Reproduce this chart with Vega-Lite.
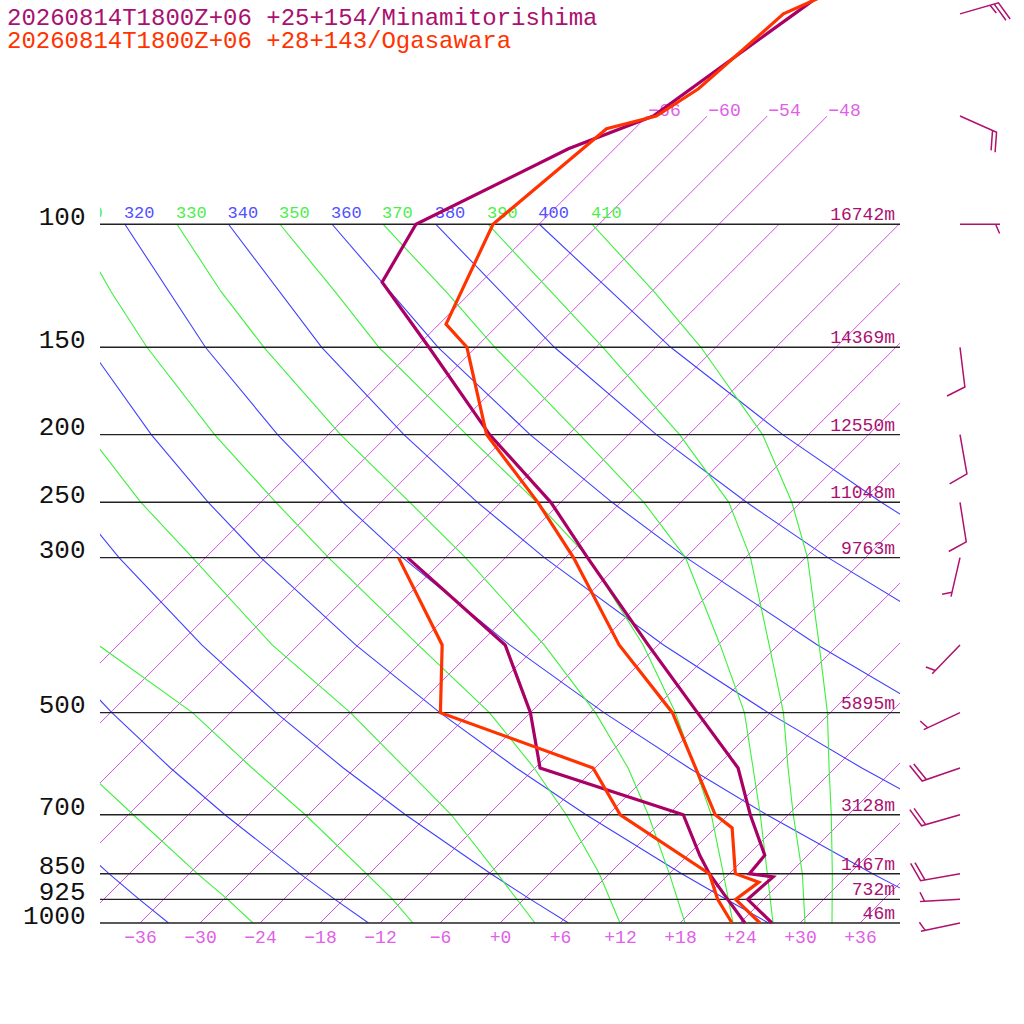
{
  "$schema": "https://vega.github.io/schema/vega-lite/v6.json",
  "width": 800,
  "height": 807,
  "autosize": {"type": "none"},
  "padding": {"left": 100, "top": 116, "right": 124, "bottom": 101},
  "background": "white",
  "config": {"view": {"stroke": null}, "font": "Liberation Mono"},
  "resolve": {"scale": {"color": "independent"}, "axis": {"x": "independent", "y": "independent"}},
  "datasets": {
    "levels": [
      {"p": 100, "h": "16742m"}, {"p": 150, "h": "14369m"}, {"p": 200, "h": "12550m"},
      {"p": 250, "h": "11048m"}, {"p": 300, "h": "9763m"}, {"p": 500, "h": "5895m"},
      {"p": 700, "h": "3128m"}, {"p": 850, "h": "1467m"}, {"p": 925, "h": "732m"},
      {"p": 1000, "h": "46m"}
    ],
    "iso": [
      {"t": -66, "p": 1000}, {"t": -66, "p": 70}, {"t": -60, "p": 1000}, {"t": -60, "p": 70},
      {"t": -54, "p": 1000}, {"t": -54, "p": 70}, {"t": -48, "p": 1000}, {"t": -48, "p": 70},
      {"t": -42, "p": 1000}, {"t": -42, "p": 100}, {"t": -36, "p": 1000}, {"t": -36, "p": 100},
      {"t": -30, "p": 1000}, {"t": -30, "p": 100}, {"t": -24, "p": 1000}, {"t": -24, "p": 100},
      {"t": -18, "p": 1000}, {"t": -18, "p": 100}, {"t": -12, "p": 1000}, {"t": -12, "p": 100},
      {"t": -6, "p": 1000}, {"t": -6, "p": 100}, {"t": 0, "p": 1000}, {"t": 0, "p": 100},
      {"t": 6, "p": 1000}, {"t": 6, "p": 100}, {"t": 12, "p": 1000}, {"t": 12, "p": 100},
      {"t": 18, "p": 1000}, {"t": 18, "p": 100}, {"t": 24, "p": 1000}, {"t": 24, "p": 100},
      {"t": 30, "p": 1000}, {"t": 30, "p": 100}, {"t": 36, "p": 1000}, {"t": 36, "p": 100}
    ],
    "adiabats": [
      {"k": "dry", "th": 240, "p": 1000, "t": -33.15}, {"k": "dry", "th": 240, "p": 925, "t": -38.44},
      {"k": "dry", "th": 240, "p": 850, "t": -44.04}, {"k": "dry", "th": 240, "p": 700, "t": -56.4},
      {"k": "dry", "th": 260, "p": 1000, "t": -13.15}, {"k": "dry", "th": 260, "p": 925, "t": -18.88},
      {"k": "dry", "th": 260, "p": 850, "t": -24.95}, {"k": "dry", "th": 260, "p": 700, "t": -38.34},
      {"k": "dry", "th": 260, "p": 600, "t": -48.46}, {"k": "dry", "th": 260, "p": 500, "t": -59.86},
      {"k": "dry", "th": 260, "p": 400, "t": -73.03},
      {"k": "dry", "th": 280, "p": 1000, "t": 6.85}, {"k": "dry", "th": 280, "p": 925, "t": 0.68},
      {"k": "dry", "th": 280, "p": 850, "t": -5.85}, {"k": "dry", "th": 280, "p": 700, "t": -20.28},
      {"k": "dry", "th": 280, "p": 600, "t": -31.17}, {"k": "dry", "th": 280, "p": 500, "t": -43.45},
      {"k": "dry", "th": 280, "p": 400, "t": -57.64}, {"k": "dry", "th": 280, "p": 300, "t": -74.65},
      {"k": "dry", "th": 280, "p": 250, "t": -84.72},
      {"k": "dry", "th": 300, "p": 1000, "t": 26.85}, {"k": "dry", "th": 300, "p": 925, "t": 20.24},
      {"k": "dry", "th": 300, "p": 850, "t": 13.24}, {"k": "dry", "th": 300, "p": 700, "t": -2.22},
      {"k": "dry", "th": 300, "p": 600, "t": -13.89}, {"k": "dry", "th": 300, "p": 500, "t": -27.05},
      {"k": "dry", "th": 300, "p": 400, "t": -42.25}, {"k": "dry", "th": 300, "p": 300, "t": -60.47},
      {"k": "dry", "th": 300, "p": 250, "t": -71.26}, {"k": "dry", "th": 300, "p": 200, "t": -83.73},
      {"k": "dry", "th": 300, "p": 150, "t": -98.68},
      {"k": "dry", "th": 320, "p": 1000, "t": 46.85}, {"k": "dry", "th": 320, "p": 925, "t": 39.8},
      {"k": "dry", "th": 320, "p": 850, "t": 32.33}, {"k": "dry", "th": 320, "p": 700, "t": 15.85},
      {"k": "dry", "th": 320, "p": 600, "t": 3.4}, {"k": "dry", "th": 320, "p": 500, "t": -10.64},
      {"k": "dry", "th": 320, "p": 400, "t": -26.85}, {"k": "dry", "th": 320, "p": 300, "t": -46.29},
      {"k": "dry", "th": 320, "p": 250, "t": -57.8}, {"k": "dry", "th": 320, "p": 200, "t": -71.1},
      {"k": "dry", "th": 320, "p": 150, "t": -87.05}, {"k": "dry", "th": 320, "p": 100, "t": -107.41},
      {"k": "dry", "th": 340, "p": 700, "t": 33.91}, {"k": "dry", "th": 340, "p": 600, "t": 20.68},
      {"k": "dry", "th": 340, "p": 500, "t": 5.77}, {"k": "dry", "th": 340, "p": 400, "t": -11.46},
      {"k": "dry", "th": 340, "p": 300, "t": -32.11}, {"k": "dry", "th": 340, "p": 250, "t": -44.34},
      {"k": "dry", "th": 340, "p": 200, "t": -58.47}, {"k": "dry", "th": 340, "p": 150, "t": -75.42},
      {"k": "dry", "th": 340, "p": 100, "t": -97.05},
      {"k": "dry", "th": 360, "p": 500, "t": 22.17}, {"k": "dry", "th": 360, "p": 400, "t": 3.93},
      {"k": "dry", "th": 360, "p": 300, "t": -17.93}, {"k": "dry", "th": 360, "p": 250, "t": -30.88},
      {"k": "dry", "th": 360, "p": 200, "t": -45.85}, {"k": "dry", "th": 360, "p": 150, "t": -63.78},
      {"k": "dry", "th": 360, "p": 100, "t": -86.69},
      {"k": "dry", "th": 380, "p": 400, "t": 19.33}, {"k": "dry", "th": 380, "p": 300, "t": -3.75},
      {"k": "dry", "th": 380, "p": 250, "t": -17.43}, {"k": "dry", "th": 380, "p": 200, "t": -33.22},
      {"k": "dry", "th": 380, "p": 150, "t": -52.15}, {"k": "dry", "th": 380, "p": 100, "t": -76.33},
      {"k": "dry", "th": 400, "p": 300, "t": 10.43}, {"k": "dry", "th": 400, "p": 250, "t": -3.97},
      {"k": "dry", "th": 400, "p": 200, "t": -20.59}, {"k": "dry", "th": 400, "p": 150, "t": -40.52},
      {"k": "dry", "th": 400, "p": 100, "t": -65.97},
      {"k": "moist", "th": 250, "p": 1000, "t": -24.7}, {"k": "moist", "th": 250, "p": 925, "t": -29.6},
      {"k": "moist", "th": 250, "p": 850, "t": -35.2}, {"k": "moist", "th": 250, "p": 700, "t": -47.5},
      {"k": "moist", "th": 250, "p": 600, "t": -57.2},
      {"k": "moist", "th": 270, "p": 1000, "t": -8.7}, {"k": "moist", "th": 270, "p": 925, "t": -13.1},
      {"k": "moist", "th": 270, "p": 850, "t": -18.3}, {"k": "moist", "th": 270, "p": 700, "t": -30.3},
      {"k": "moist", "th": 270, "p": 600, "t": -40.3}, {"k": "moist", "th": 270, "p": 500, "t": -51.8},
      {"k": "moist", "th": 270, "p": 400, "t": -68.0},
      {"k": "moist", "th": 290, "p": 1000, "t": 3.5}, {"k": "moist", "th": 290, "p": 850, "t": -5.2},
      {"k": "moist", "th": 290, "p": 700, "t": -15.7}, {"k": "moist", "th": 290, "p": 600, "t": -25.0},
      {"k": "moist", "th": 290, "p": 500, "t": -36.0}, {"k": "moist", "th": 290, "p": 400, "t": -50.6},
      {"k": "moist", "th": 290, "p": 300, "t": -67.3}, {"k": "moist", "th": 290, "p": 250, "t": -78.0},
      {"k": "moist", "th": 290, "p": 200, "t": -90.0},
      {"k": "moist", "th": 310, "p": 1000, "t": 12.0}, {"k": "moist", "th": 310, "p": 850, "t": 5.0},
      {"k": "moist", "th": 310, "p": 700, "t": -4.2}, {"k": "moist", "th": 310, "p": 600, "t": -12.1},
      {"k": "moist", "th": 310, "p": 500, "t": -22.1}, {"k": "moist", "th": 310, "p": 400, "t": -36.0},
      {"k": "moist", "th": 310, "p": 300, "t": -53.7}, {"k": "moist", "th": 310, "p": 250, "t": -64.5},
      {"k": "moist", "th": 310, "p": 200, "t": -77.4}, {"k": "moist", "th": 310, "p": 150, "t": -92.9},
      {"k": "moist", "th": 310, "p": 125, "t": -102.0}, {"k": "moist", "th": 310, "p": 100, "t": -112.6},
      {"k": "moist", "th": 330, "p": 1000, "t": 18.5}, {"k": "moist", "th": 330, "p": 850, "t": 12.0},
      {"k": "moist", "th": 330, "p": 700, "t": 4.0}, {"k": "moist", "th": 330, "p": 600, "t": -2.7},
      {"k": "moist", "th": 330, "p": 500, "t": -11.5}, {"k": "moist", "th": 330, "p": 400, "t": -23.4},
      {"k": "moist", "th": 330, "p": 300, "t": -40.0}, {"k": "moist", "th": 330, "p": 250, "t": -51.1},
      {"k": "moist", "th": 330, "p": 200, "t": -64.8}, {"k": "moist", "th": 330, "p": 150, "t": -81.2},
      {"k": "moist", "th": 330, "p": 125, "t": -91.0}, {"k": "moist", "th": 330, "p": 100, "t": -102.2},
      {"k": "moist", "th": 350, "p": 1000, "t": 23.3}, {"k": "moist", "th": 350, "p": 850, "t": 17.4},
      {"k": "moist", "th": 350, "p": 700, "t": 10.3}, {"k": "moist", "th": 350, "p": 600, "t": 4.0},
      {"k": "moist", "th": 350, "p": 500, "t": -3.5}, {"k": "moist", "th": 350, "p": 400, "t": -13.5},
      {"k": "moist", "th": 350, "p": 300, "t": -27.7}, {"k": "moist", "th": 350, "p": 250, "t": -38.4},
      {"k": "moist", "th": 350, "p": 200, "t": -52.2}, {"k": "moist", "th": 350, "p": 150, "t": -69.7},
      {"k": "moist", "th": 350, "p": 125, "t": -79.6}, {"k": "moist", "th": 350, "p": 100, "t": -91.9},
      {"k": "moist", "th": 370, "p": 1000, "t": 27.3}, {"k": "moist", "th": 370, "p": 850, "t": 21.8},
      {"k": "moist", "th": 370, "p": 700, "t": 15.2}, {"k": "moist", "th": 370, "p": 600, "t": 9.8},
      {"k": "moist", "th": 370, "p": 500, "t": 3.4}, {"k": "moist", "th": 370, "p": 400, "t": -5.8},
      {"k": "moist", "th": 370, "p": 300, "t": -18.0}, {"k": "moist", "th": 370, "p": 250, "t": -27.7},
      {"k": "moist", "th": 370, "p": 200, "t": -40.9}, {"k": "moist", "th": 370, "p": 150, "t": -58.1},
      {"k": "moist", "th": 370, "p": 125, "t": -68.5}, {"k": "moist", "th": 370, "p": 100, "t": -81.6},
      {"k": "moist", "th": 390, "p": 1000, "t": 30.5}, {"k": "moist", "th": 390, "p": 850, "t": 25.3},
      {"k": "moist", "th": 390, "p": 700, "t": 18.5}, {"k": "moist", "th": 390, "p": 600, "t": 13.3},
      {"k": "moist", "th": 390, "p": 500, "t": 7.3}, {"k": "moist", "th": 390, "p": 400, "t": -0.9},
      {"k": "moist", "th": 390, "p": 300, "t": -11.5}, {"k": "moist", "th": 390, "p": 250, "t": -19.2},
      {"k": "moist", "th": 390, "p": 200, "t": -30.9}, {"k": "moist", "th": 390, "p": 150, "t": -47.3},
      {"k": "moist", "th": 390, "p": 125, "t": -58.0}, {"k": "moist", "th": 390, "p": 100, "t": -71.1},
      {"k": "moist", "th": 410, "p": 1000, "t": 33.2}, {"k": "moist", "th": 410, "p": 850, "t": 28.3},
      {"k": "moist", "th": 410, "p": 700, "t": 22.3}, {"k": "moist", "th": 410, "p": 600, "t": 17.4},
      {"k": "moist", "th": 410, "p": 500, "t": 11.7}, {"k": "moist", "th": 410, "p": 400, "t": 4.1},
      {"k": "moist", "th": 410, "p": 300, "t": -5.8}, {"k": "moist", "th": 410, "p": 250, "t": -12.9},
      {"k": "moist", "th": 410, "p": 200, "t": -22.6}, {"k": "moist", "th": 410, "p": 150, "t": -37.5},
      {"k": "moist", "th": 410, "p": 125, "t": -47.7}, {"k": "moist", "th": 410, "p": 100, "t": -60.7}
    ],
    "snd": [
      {"stn": "M", "kind": "T", "p": 1000, "t": 27.2}, {"stn": "M", "kind": "T", "p": 925, "t": 22.4},
      {"stn": "M", "kind": "T", "p": 859, "t": 22.7}, {"stn": "M", "kind": "T", "p": 850, "t": 20.0},
      {"stn": "M", "kind": "T", "p": 800, "t": 19.7}, {"stn": "M", "kind": "T", "p": 700, "t": 14.2},
      {"stn": "M", "kind": "T", "p": 600, "t": 8.3}, {"stn": "M", "kind": "T", "p": 500, "t": -1.3},
      {"stn": "M", "kind": "T", "p": 400, "t": -13.0}, {"stn": "M", "kind": "T", "p": 300, "t": -27.8},
      {"stn": "M", "kind": "T", "p": 250, "t": -37.0}, {"stn": "M", "kind": "T", "p": 200, "t": -49.9},
      {"stn": "M", "kind": "T", "p": 150, "t": -64.7}, {"stn": "M", "kind": "T", "p": 121, "t": -75.9},
      {"stn": "M", "kind": "T", "p": 100, "t": -78.3}, {"stn": "M", "kind": "T", "p": 78, "t": -70.6},
      {"stn": "M", "kind": "T", "p": 70, "t": -65.4}, {"stn": "M", "kind": "T", "p": 50, "t": -61.5},
      {"stn": "M", "kind": "T", "p": 30, "t": -55.6},
      {"stn": "M", "kind": "D", "p": 1000, "t": 24.5}, {"stn": "M", "kind": "D", "p": 925, "t": 20.4},
      {"stn": "M", "kind": "D", "p": 850, "t": 16.0}, {"stn": "M", "kind": "D", "p": 800, "t": 13.2},
      {"stn": "M", "kind": "D", "p": 700, "t": 7.5}, {"stn": "M", "kind": "D", "p": 600, "t": -11.5},
      {"stn": "M", "kind": "D", "p": 500, "t": -18.0}, {"stn": "M", "kind": "D", "p": 400, "t": -27.3},
      {"stn": "M", "kind": "D", "p": 300, "t": -45.8},
      {"stn": "O", "kind": "T", "p": 1000, "t": 26.0}, {"stn": "O", "kind": "T", "p": 925, "t": 21.2},
      {"stn": "O", "kind": "T", "p": 874, "t": 21.8}, {"stn": "O", "kind": "T", "p": 850, "t": 18.6},
      {"stn": "O", "kind": "T", "p": 731, "t": 13.7}, {"stn": "O", "kind": "T", "p": 700, "t": 10.7},
      {"stn": "O", "kind": "T", "p": 500, "t": -3.8}, {"stn": "O", "kind": "T", "p": 400, "t": -15.9},
      {"stn": "O", "kind": "T", "p": 300, "t": -29.2}, {"stn": "O", "kind": "T", "p": 250, "t": -38.3},
      {"stn": "O", "kind": "T", "p": 200, "t": -50.2}, {"stn": "O", "kind": "T", "p": 150, "t": -60.9},
      {"stn": "O", "kind": "T", "p": 139, "t": -65.3}, {"stn": "O", "kind": "T", "p": 100, "t": -70.6},
      {"stn": "O", "kind": "T", "p": 73, "t": -68.8}, {"stn": "O", "kind": "T", "p": 70, "t": -65.1},
      {"stn": "O", "kind": "T", "p": 64, "t": -63.6}, {"stn": "O", "kind": "T", "p": 50, "t": -62.6},
      {"stn": "O", "kind": "T", "p": 30, "t": -43.4},
      {"stn": "O", "kind": "D", "p": 1000, "t": 23.2}, {"stn": "O", "kind": "D", "p": 925, "t": 19.4},
      {"stn": "O", "kind": "D", "p": 850, "t": 16.0}, {"stn": "O", "kind": "D", "p": 700, "t": 1.2},
      {"stn": "O", "kind": "D", "p": 600, "t": -6.2}, {"stn": "O", "kind": "D", "p": 500, "t": -27.0},
      {"stn": "O", "kind": "D", "p": 400, "t": -33.6}, {"stn": "O", "kind": "D", "p": 300, "t": -46.7}
    ],
    "barbs": [
      {"p": 50, "dir": 74, "barb": "f2h"}, {"p": 70, "dir": 114, "barb": "f2"},
      {"p": 100, "dir": 90, "barb": "h"}, {"p": 150, "dir": 173, "barb": "f1"},
      {"p": 200, "dir": 170, "barb": "f1"}, {"p": 250, "dir": 171, "barb": "f1"},
      {"p": 300, "dir": 193, "barb": "h"}, {"p": 400, "dir": 224, "barb": "h"},
      {"p": 500, "dir": 245, "barb": "h"}, {"p": 600, "dir": 251, "barb": "f2"},
      {"p": 700, "dir": 254, "barb": "f2"}, {"p": 850, "dir": 260, "barb": "f2"},
      {"p": 925, "dir": 267, "barb": "h"}, {"p": 1000, "dir": 258, "barb": "h"}
    ]
  },
  "layer": [
    {
      "encoding": {
        "x": {
          "field": "xs",
          "type": "quantitative",
          "scale": {"domain": [-40, 40], "nice": false, "zero": false},
          "axis": {
            "values": [-36, -30, -24, -18, -12, -6, 0, 6, 12, 18, 24, 30, 36],
            "title": null,
            "domain": false,
            "ticks": false,
            "tickSize": 0,
            "grid": false,
            "labelFont": "Liberation Mono",
            "labelFontSize": 18,
            "labelColor": "#e060e8",
            "labelBaseline": "alphabetic",
            "labelPadding": 19,
            "labelFlush": false,
            "labelOverlap": false,
            "labelExpr": "(datum.value >= 0 ? '+' : '\u2212') + abs(datum.value)"
          }
        },
        "y": {
          "field": "p",
          "type": "quantitative",
          "scale": {"type": "log", "domain": [70, 1000], "nice": false, "reverse": true},
          "axis": {
            "values": [100, 150, 200, 250, 300, 500, 700, 850, 925, 1000],
            "title": null,
            "domain": false,
            "ticks": false,
            "tickSize": 0,
            "grid": false,
            "labelFont": "Liberation Mono",
            "labelFontSize": 26,
            "labelColor": "#111111",
            "labelBaseline": "alphabetic",
            "labelPadding": 15,
            "labelFlush": false,
            "labelOverlap": false,
            "labelExpr": "'' + datum.value"
          }
        }
      },
      "layer": [
        {
          "data": {"name": "iso"},
          "transform": [{"calculate": "datum.t + 69.9 * log(1000 / datum.p) / LN10", "as": "xs"}],
          "mark": {"type": "line", "clip": true, "color": "#d455e6", "strokeWidth": 1},
          "encoding": {"detail": {"field": "t"}, "order": {"field": "p", "type": "quantitative"}}
        },
        {
          "data": {"name": "adiabats"},
          "transform": [{"calculate": "datum.t + 69.9 * log(1000 / datum.p) / LN10", "as": "xs"}],
          "mark": {"type": "line", "clip": true, "strokeWidth": 1.1},
          "encoding": {
            "detail": [{"field": "k"}, {"field": "th"}],
            "color": {"field": "k", "type": "nominal", "scale": {"domain": ["dry", "moist"], "range": ["#4040ff", "#3cf03c"]}, "legend": null},
            "order": {"field": "p", "type": "quantitative"}
          }
        }
      ]
    },
    {
      "data": {"name": "levels"},
      "mark": {"type": "rule", "color": "#222222", "strokeWidth": 1.4},
      "encoding": {
        "y": {"field": "p", "type": "quantitative", "scale": {"type": "log", "domain": [70, 1000], "nice": false, "reverse": true}, "axis": null}
      }
    },
    {
      "resolve": {"scale": {"color": "independent"}},
      "encoding": {
        "x": {"field": "xs", "type": "quantitative", "scale": {"domain": [-40, 40], "nice": false, "zero": false}, "axis": null},
        "y": {"field": "p", "type": "quantitative", "scale": {"type": "log", "domain": [70, 1000], "nice": false, "reverse": true}, "axis": null}
      },
      "layer": [
        {
          "data": {"name": "iso"},
          "transform": [
            {"filter": "datum.p == 70"},
            {"calculate": "datum.t + 69.9 * log(1000 / datum.p) / LN10", "as": "xs"},
            {"calculate": "(datum.t >= 0 ? '+' : '\u2212') + abs(datum.t)", "as": "lab"}
          ],
          "mark": {"type": "text", "align": "left", "baseline": "alphabetic", "dx": 1, "fontSize": 18, "color": "#e060e8"},
          "encoding": {"text": {"field": "lab"}}
        },
        {
          "data": {"name": "adiabats"},
          "transform": [
            {"filter": "datum.p == 100"},
            {"calculate": "datum.t + 69.9 * log(1000 / datum.p) / LN10", "as": "xs"}
          ],
          "mark": {"type": "text", "align": "left", "baseline": "alphabetic", "dx": -1, "dy": -6, "fontSize": 17, "clip": true},
          "encoding": {
            "text": {"field": "th"},
            "color": {"field": "k", "type": "nominal", "scale": {"domain": ["dry", "moist"], "range": ["#5050ff", "#4cee4c"]}, "legend": null}
          }
        },
        {
          "data": {"name": "snd"},
          "transform": [{"calculate": "datum.t + 69.9 * log(1000 / datum.p) / LN10", "as": "xs"}],
          "mark": {"type": "line", "strokeWidth": 3.2},
          "encoding": {
            "color": {"field": "stn", "type": "nominal", "scale": {"domain": ["M", "O"], "range": ["#aa0066", "#ff3300"]}, "legend": null},
            "detail": {"field": "kind"},
            "order": {"field": "p", "type": "quantitative"}
          }
        }
      ]
    },
    {
      "data": {"name": "levels"},
      "mark": {"type": "text", "align": "right", "baseline": "alphabetic", "dy": -4, "fontSize": 18, "color": "#aa1070"},
      "encoding": {
        "x": {"datum": 39.5, "type": "quantitative", "scale": {"domain": [-40, 40], "nice": false, "zero": false}, "axis": null},
        "y": {"field": "p", "type": "quantitative", "scale": {"type": "log", "domain": [70, 1000], "nice": false, "reverse": true}, "axis": null},
        "text": {"field": "h"}
      }
    },
    {
      "data": {"name": "barbs"},
      "mark": {"type": "point", "filled": false, "size": 6400, "strokeWidth": 1.5, "color": "#b0106e", "opacity": 1},
      "encoding": {
        "x": {"datum": 46, "type": "quantitative", "scale": {"domain": [-40, 40], "nice": false, "zero": false}, "axis": null},
        "y": {"field": "p", "type": "quantitative", "scale": {"type": "log", "domain": [70, 1000], "nice": false, "reverse": true}, "axis": null},
        "shape": {
          "field": "barb",
          "type": "nominal",
          "scale": {
            "domain": ["h", "f1", "f2", "f2h"],
            "range": [
              "M0,0L0,-1M0,-0.89L0.23,-0.99",
              "M0,0L0,-1L0.47,-1.17",
              "M0,0L0,-1L0.47,-1.17M0,-0.89L0.47,-1.06",
              "M0,0L0,-1L0.47,-1.17M0,-0.89L0.47,-1.06M0,-0.78L0.23,-0.88"
            ]
          },
          "legend": null
        },
        "angle": {"field": "dir", "type": "quantitative", "scale": {"domain": [0, 360], "range": [0, 360]}}
      }
    },
    {
      "data": {"values": [{}]},
      "mark": {"type": "text", "align": "left", "baseline": "alphabetic", "fontSize": 24, "color": "#aa1070", "text": "20260814T1800Z+06 +25+154/Minamitorishima"},
      "encoding": {
        "x": {"datum": -49.3, "type": "quantitative", "scale": {"domain": [-40, 40], "nice": false, "zero": false}, "axis": null},
        "y": {"datum": 51.86, "type": "quantitative", "scale": {"type": "log", "domain": [70, 1000], "nice": false, "reverse": true}, "axis": null}
      }
    },
    {
      "data": {"values": [{}]},
      "mark": {"type": "text", "align": "left", "baseline": "alphabetic", "fontSize": 24, "color": "#ff3300", "text": "20260814T1800Z+06 +28+143/Ogasawara"},
      "encoding": {
        "x": {"datum": -49.3, "type": "quantitative", "scale": {"domain": [-40, 40], "nice": false, "zero": false}, "axis": null},
        "y": {"datum": 55.94, "type": "quantitative", "scale": {"type": "log", "domain": [70, 1000], "nice": false, "reverse": true}, "axis": null}
      }
    }
  ]
}
